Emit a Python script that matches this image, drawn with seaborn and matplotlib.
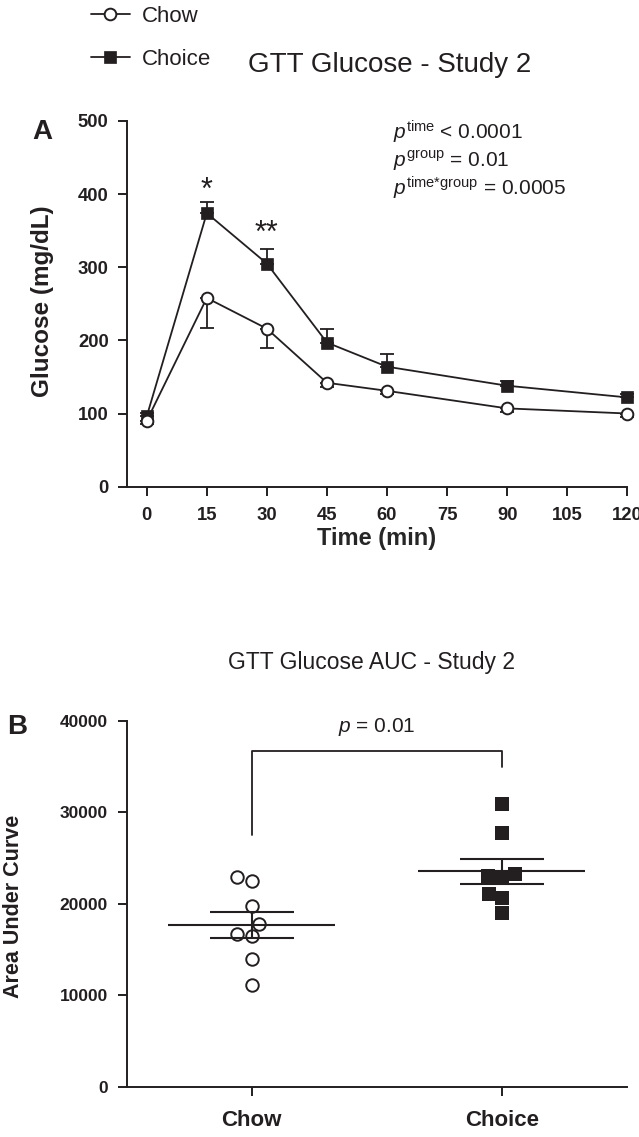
import numpy as np
import pandas as pd
import matplotlib
matplotlib.use('Agg')
import matplotlib.pyplot as plt
import seaborn as sns

# GTT glucose time course, group mean and SEM (mg/dL)
time_min = [0, 15, 30, 45, 60, 90, 120]
chow_glucose = [90, 258, 216, 142, 131, 107, 100]
chow_sem = [4, 41, 27, 6, 5, 5, 5]
choice_glucose = [96, 374, 305, 197, 164, 138, 122]
choice_sem = [5, 15, 20, 18, 17, 6, 5]

# per-animal AUC
chow_auc = [22490, 22960, 19710, 17840, 16450, 16670, 13930, 11120]
choice_auc = [30900, 27720, 23040, 22780, 23220, 21020, 20590, 19010]

groups = ['Chow', 'Choice']
xticks_a = [0, 15, 30, 45, 60, 75, 90, 105, 120]
yticks_a = [0, 100, 200, 300, 400, 500]
yticks_b = [0, 10000, 20000, 30000, 40000]

# significance marks
star_time = [15, 30]
star_label = ['*', '**']
star_level = [394, 334]
bracket_x = [0, 0, 1, 1]
bracket_y = [27500, 36720, 36720, 34970]

ink = '#231f20'

sns.set_style('ticks')
plt.rcParams['font.family'] = ['Liberation Sans', 'DejaVu Sans']
plt.rcParams['mathtext.fontset'] = 'custom'
plt.rcParams['mathtext.rm'] = 'Liberation Sans'
plt.rcParams['mathtext.it'] = 'Liberation Sans:italic'
plt.rcParams['text.color'] = ink
plt.rcParams['axes.edgecolor'] = ink

fig = plt.figure(figsize=(6.39, 11.37), dpi=100)
ax1 = fig.add_axes([0.1983, 0.5720, 0.7834, 0.3216])
ax2 = fig.add_axes([0.1983, 0.0442, 0.7825, 0.3219])


"""
Panel A - glucose curve
"""
ax1.errorbar(time_min, choice_glucose, yerr=[np.zeros(len(time_min)), choice_sem],
             fmt='none', ecolor=ink, elinewidth=1.3, capsize=4.7, capthick=1.3,
             zorder=2, clip_on=False)
ax1.errorbar(time_min, chow_glucose, yerr=[chow_sem, np.zeros(len(time_min))],
             fmt='none', ecolor=ink, elinewidth=1.3, capsize=4.7, capthick=1.3,
             zorder=2, clip_on=False)

sns.lineplot(x=time_min, y=choice_glucose, ax=ax1, color=ink, lw=1.3,
             marker='s', ms=8.6, mfc=ink, mec=ink, mew=0.5, zorder=3, clip_on=False)
line_choice = ax1.lines[-1]
sns.lineplot(x=time_min, y=chow_glucose, ax=ax1, color=ink, lw=1.3,
             marker='o', ms=8.4, mfc='white', mec=ink, mew=1.4, zorder=4, clip_on=False)
line_chow = ax1.lines[-1]

for t, lab, lev in zip(star_time, star_label, star_level):
    ax1.text(t, lev, lab, ha='center', va='baseline', fontsize=22)

ax1.set_xlim(-5, 120)
ax1.set_ylim(0, 500)
ax1.set_xticks(xticks_a)
ax1.set_yticks(yticks_a)
ax1.set_xlabel('Time (min)', fontsize=17, fontweight='bold', labelpad=2)
ax1.set_ylabel('')

ax1.text(61.5, 484, r'$\mathit{p}^{\mathrm{time}}$ < 0.0001', ha='left', va='center', fontsize=15)
ax1.text(61.5, 446, r'$\mathit{p}^{\mathrm{group}}$ = 0.01', ha='left', va='center', fontsize=15)
ax1.text(61.5, 408, r'$\mathit{p}^{\mathrm{time{*}group}}$ = 0.0005', ha='left', va='center', fontsize=15)

fig.text(42 / 639, 1 - 131.7 / 1137, 'A', ha='center', va='center', fontsize=20, fontweight='bold')
fig.text(42.7 / 639, 1 - 301.5 / 1137, 'Glucose (mg/dL)', rotation=90, ha='center', va='center',
         fontsize=17.5, fontweight='bold')
fig.text(390 / 639, 1 - 64.5 / 1137, 'GTT Glucose - Study 2', ha='center', va='center', fontsize=20)

fig.legend(handles=[line_chow, line_choice], labels=groups, loc='upper left',
           bbox_to_anchor=(91 / 639, 1 - 6 / 1137), frameon=False, fontsize=16,
           handlelength=1.75, handletextpad=0.55, labelspacing=1.0,
           borderpad=0, borderaxespad=0)


"""
Panel B - AUC scatter
"""
auc_df = pd.DataFrame({'group': ['Chow'] * len(chow_auc) + ['Choice'] * len(choice_auc),
                       'auc': chow_auc + choice_auc})

sns.swarmplot(data=auc_df[auc_df['group'] == 'Chow'], x='group', y='auc', order=groups,
              marker='o', size=9, color='white', edgecolor=ink, linewidth=1.4, ax=ax2, zorder=3)
sns.swarmplot(data=auc_df[auc_df['group'] == 'Choice'], x='group', y='auc', order=groups,
              marker='s', size=9.5, color=ink, edgecolor=ink, linewidth=0, ax=ax2, zorder=3)

for i, vals in enumerate([chow_auc, choice_auc]):
    m = np.mean(vals)
    s = np.std(vals, ddof=1) / np.sqrt(len(vals))
    ax2.hlines(m, i - 0.333, i + 0.333, color=ink, lw=1.5, zorder=4)
    ax2.hlines([m - s, m + s], i - 0.168, i + 0.168, color=ink, lw=1.5, zorder=4)
    ax2.vlines(i, m - s, m + s, color=ink, lw=1.5, zorder=4)

ax2.plot(bracket_x, bracket_y, color=ink, lw=1.3)
ax2.text(0.5, 39300, r'$\mathit{p}$ = 0.01', ha='center', va='center', fontsize=15)

ax2.set_xlim(-0.5, 1.5)
ax2.set_ylim(0, 40000)
ax2.set_yticks(yticks_b)
ax2.set_xlabel('')
ax2.set_ylabel('')

fig.text(17 / 639, 1 - 727 / 1137, 'B', ha='center', va='center', fontsize=20, fontweight='bold')
fig.text(14 / 639, 1 - 906 / 1137, 'Area Under Curve', rotation=90, ha='center', va='center',
         fontsize=15.5, fontweight='bold')
fig.text(372 / 639, 1 - 662 / 1137, 'GTT Glucose AUC - Study 2', ha='center', va='center', fontsize=16.5)


# axis styling shared by both panels
for ax in [ax1, ax2]:
    sns.despine(ax=ax)
    for side in ['left', 'bottom']:
        ax.spines[side].set_linewidth(1.4)
        ax.spines[side].set_color(ink)
    ax.tick_params(direction='out', length=6.5, width=1.4, colors=ink)
    for lab in ax.get_xticklabels() + ax.get_yticklabels():
        lab.set_fontweight('bold')

ax1.tick_params(axis='y', pad=6.5, labelsize=13.3)
ax1.tick_params(axis='x', pad=8, labelsize=13.3)
ax2.tick_params(axis='y', pad=7, labelsize=12.5)
ax2.tick_params(axis='x', pad=10, labelsize=16)

fig.savefig('out.png', dpi=100)
